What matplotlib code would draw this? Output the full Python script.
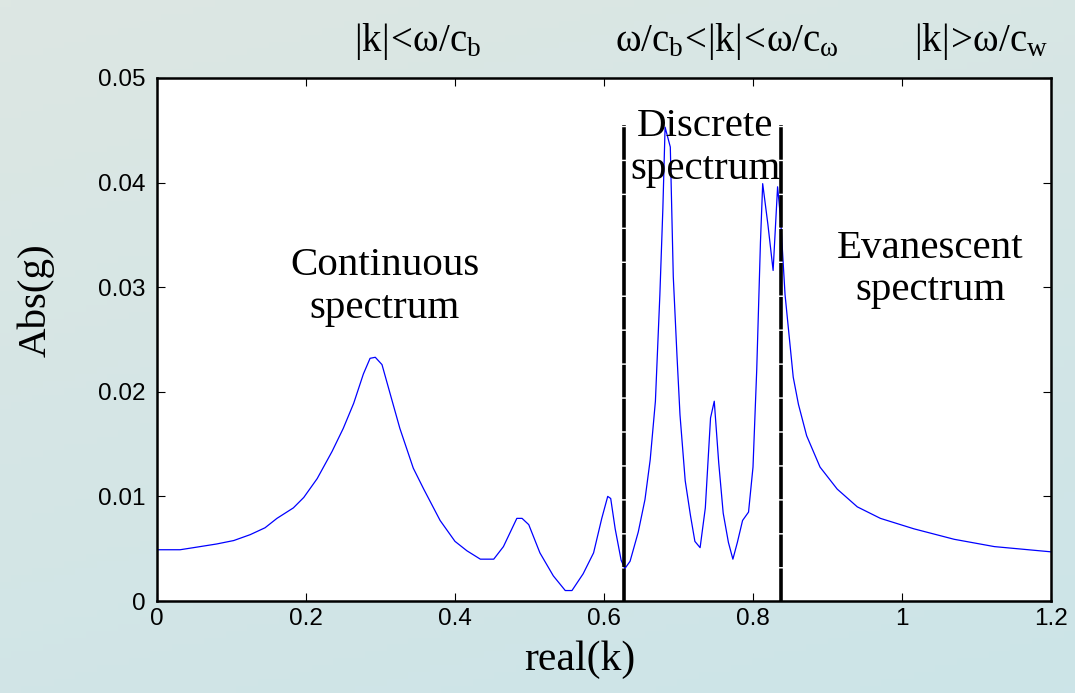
import numpy as np
import matplotlib
matplotlib.use("Agg")
import matplotlib.pyplot as plt

# values
k = [0.0, 0.031, 0.049, 0.080, 0.103, 0.125, 0.145, 0.161, 0.183, 0.197,
     0.215, 0.235, 0.250, 0.264, 0.277, 0.286, 0.293, 0.302, 0.313, 0.326,
     0.344, 0.358, 0.380, 0.400, 0.416, 0.434, 0.452, 0.465, 0.483, 0.490,
     0.499, 0.514, 0.532, 0.548, 0.557, 0.572, 0.586, 0.597, 0.605, 0.609,
     0.615, 0.623, 0.628, 0.635, 0.646, 0.655, 0.662, 0.669, 0.675, 0.679,
     0.682, 0.689, 0.693, 0.698, 0.702, 0.709, 0.716, 0.722, 0.729, 0.736,
     0.743, 0.748, 0.754, 0.760, 0.767, 0.773, 0.779, 0.786, 0.794, 0.800,
     0.805, 0.810, 0.813, 0.820, 0.827, 0.833, 0.837, 0.843, 0.848, 0.854,
     0.861, 0.872, 0.890, 0.913, 0.940, 0.971, 1.016, 1.070, 1.124, 1.200]
absg = [0.0049, 0.0049, 0.0051, 0.00545, 0.00578, 0.00634, 0.0070, 0.0079, 0.0089, 0.0099,
        0.0117, 0.0143, 0.0165, 0.0189, 0.0217, 0.0232, 0.0233, 0.0226, 0.0198, 0.0165,
        0.0127, 0.0107, 0.0077, 0.0057, 0.0048, 0.0040, 0.0040, 0.0052, 0.0079, 0.0079,
        0.0073, 0.0046, 0.0024, 0.0010, 0.0010, 0.0026, 0.0046, 0.0079, 0.0100, 0.0098,
        0.0069, 0.0039, 0.0031, 0.0038, 0.0066, 0.0097, 0.0135, 0.0191, 0.0293, 0.0375,
        0.0453, 0.0434, 0.0310, 0.0234, 0.0178, 0.0115, 0.0082, 0.0057, 0.0051, 0.0089,
        0.0175, 0.0191, 0.0132, 0.0084, 0.0056, 0.0040, 0.0056, 0.0077, 0.0085, 0.0128,
        0.0221, 0.0343, 0.0399, 0.0360, 0.0316, 0.0396, 0.0366, 0.0293, 0.0257, 0.0214,
        0.0188, 0.0158, 0.0128, 0.0107, 0.0090, 0.0079, 0.0069, 0.0059, 0.0052, 0.0047]

boundaries = [0.627, 0.837]
boundary_top = 0.0455

regions = ["Continuous\nspectrum", "Discrete\nspectrum", "Evanescent\nspectrum"]
region_pos = [(0.306, 0.0300), (0.736, 0.0433), (1.038, 0.0317)]

conditions = [r"$|k|\!<\!\omega/c_b$", r"$\omega/c_b\!<\!|k|\!<\!\omega/c_\omega$",
              r"$|k|\!>\!\omega/c_w$"]
cond_x = [418, 727, 981]  # pixel centres

xticks = [0, 0.2, 0.4, 0.6, 0.8, 1.0, 1.2]
xticklabels = ["0", "0.2", "0.4", "0.6", "0.8", "1", "1.2"]
yticks = [0, 0.01, 0.02, 0.03, 0.04, 0.05]
yticklabels = ["0", "0.01", "0.02", "0.03", "0.04", "0.05"]

plt.rcParams['mathtext.fontset'] = 'custom'
plt.rcParams['mathtext.rm'] = 'Liberation Serif'
plt.rcParams['mathtext.it'] = 'Liberation Serif'
serif = 'Liberation Serif'
sans = 'Liberation Sans'

W, H = 1075, 693
fig = plt.figure(figsize=(W/100, H/100), dpi=100)

# background gradient
bg = fig.add_axes([0, 0, 1, 1], zorder=-10)
c1 = np.array([221, 231, 227]) / 255.
c2 = np.array([204, 228, 232]) / 255.
yy, xx = np.mgrid[0:1:100j, 0:1:100j]
t = np.clip(0.7*yy + 0.3*xx, 0, 1)[..., None]
img = c1*(1-t) + c2*t
bg.imshow(img, aspect='auto', extent=[0, 1, 0, 1], origin='upper')
bg.axis('off')

ax = fig.add_axes([157/W, 1-601/H, (1051-157)/W, (601-78)/H])
ax.plot(k, absg, color='#0000ff', linewidth=0.9)
for b in boundaries:
    ax.plot([b, b], [0, boundary_top], color='black', linewidth=2.6,
            linestyle=(0, (9, 0.4)))

for txt, (px, py) in zip(regions, region_pos):
    ax.text(px, py, txt, ha='center', va='center', fontsize=29.5,
            family=serif, linespacing=1.2)

ax.set_xlim(0, 1.2)
ax.set_ylim(0, 0.05)
ax.set_xticks(xticks)
ax.set_xticklabels(xticklabels)
ax.set_yticks(yticks)
ax.set_yticklabels(yticklabels)
ax.tick_params(direction='in', length=6, width=0.8, top=True, right=True,
               labelsize=17.5)
ax.tick_params(axis='y', pad=8)
ax.tick_params(axis='x', pad=5)
for lab in ax.get_xticklabels() + ax.get_yticklabels():
    lab.set_family(sans)
for s in ax.spines.values():
    s.set_linewidth(1.8)

for txt, cx in zip(conditions, cond_x):
    fig.text(cx/W, 1-51/H, txt, ha='center', va='baseline', fontsize=28)

fig.text(580/W, 1-660/H, "real(k)", ha='center', va='center', fontsize=30, family=serif)
fig.text(36/W, 1-300/H, "Abs(g)", ha='center', va='center', fontsize=29.5,
         family=serif, rotation=90)

fig.savefig("out.png", dpi=100)
